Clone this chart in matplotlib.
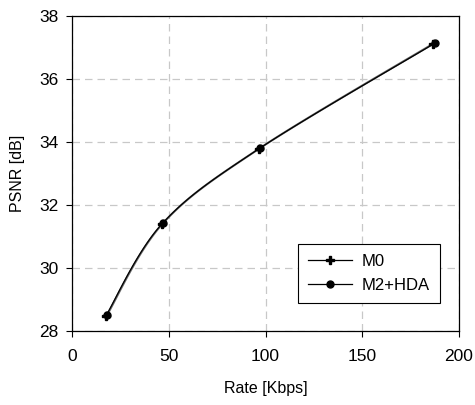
import matplotlib.pyplot as plt
import numpy as np

plt.rcParams['font.family'] = ['Liberation Sans', 'DejaVu Sans']

rate_m0 = [17.5, 46.5, 96.5, 186.5]
psnr_m0 = [28.48, 31.40, 33.78, 37.10]
rate_hda = [18.0, 47.0, 97.0, 187.5]
psnr_hda = [28.50, 31.42, 33.80, 37.15]


def smooth(x, y, n=40):
    # Excel-style smoothed line: cubic Bezier through points (Catmull-Rom tangents)
    x = np.asarray(x, float)
    y = np.asarray(y, float)
    px = np.concatenate([[x[0]], x, [x[-1]]])
    py = np.concatenate([[y[0]], y, [y[-1]]])
    xs, ys = [], []
    t = np.linspace(0, 1, n)
    for i in range(1, len(px) - 2):
        p0 = np.array([px[i], py[i]])
        p3 = np.array([px[i + 1], py[i + 1]])
        p1 = p0 + (np.array([px[i + 1], py[i + 1]]) - np.array([px[i - 1], py[i - 1]])) / 6
        p2 = p3 - (np.array([px[i + 2], py[i + 2]]) - np.array([px[i], py[i]])) / 6
        b = ((1 - t) ** 3)[:, None] * p0 + (3 * (1 - t) ** 2 * t)[:, None] * p1 \
            + (3 * (1 - t) * t ** 2)[:, None] * p2 + (t ** 3)[:, None] * p3
        xs.extend(b[:, 0])
        ys.extend(b[:, 1])
    return xs, ys


fig = plt.figure(figsize=(4.75, 4.05), dpi=100)
ax = fig.add_axes([72 / 475, 1 - 331 / 405, 387 / 475, 315 / 405])

sx, sy = smooth(rate_hda, psnr_hda)
ax.plot(sx, sy, color='#666666', lw=1.5, zorder=3)
sx, sy = smooth(rate_m0, psnr_m0)
ax.plot(sx, sy, color='black', lw=0.9, zorder=4)

ax.plot(rate_m0, psnr_m0, 'P', color='black', ms=6, zorder=5)
ax.plot(rate_hda, psnr_hda, 'o', color='black', ms=5, zorder=5)

# legend handles
ax.plot([], [], '-P', color='black', lw=0.9, ms=6, label='M0')
ax.plot([], [], '-o', color='black', lw=0.9, ms=5, label='M2+HDA')
leg = ax.legend(loc='lower right', bbox_to_anchor=(0.95, 0.09), fontsize=12,
                fancybox=False, edgecolor='black', framealpha=1, handlelength=2.6,
                borderpad=0.6, labelspacing=0.5, handletextpad=0.6,
                borderaxespad=0)
leg.get_frame().set_linewidth(0.8)

ax.set_xlim(0, 200)
ax.set_ylim(28, 38)
ax.set_xticks([0, 50, 100, 150, 200])
ax.set_yticks([28, 30, 32, 34, 36, 38])
ax.grid(True, color='#c8c8c8', linestyle=(0, (6, 4)), lw=0.9)
ax.set_axisbelow(True)
ax.tick_params(labelsize=12.5, direction='out', length=4, width=0.8)
ax.tick_params(axis='x', pad=9)
ax.tick_params(axis='y', pad=6)
for s in ax.spines.values():
    s.set_linewidth(0.9)
ax.set_xlabel('Rate [Kbps]', fontsize=11.5, labelpad=12)
ax.set_ylabel('PSNR [dB]', fontsize=11.5, labelpad=10)

fig.savefig('out.png', dpi=100)
